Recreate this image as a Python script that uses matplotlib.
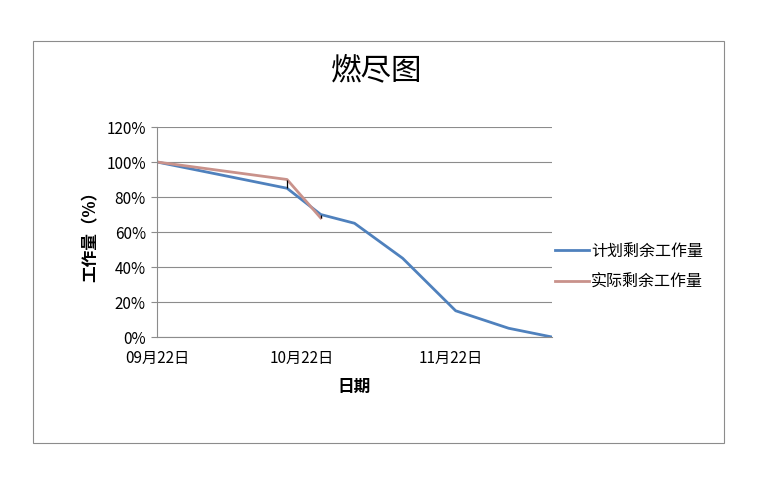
import numpy as np
import matplotlib
matplotlib.use("Agg")
import matplotlib.pyplot as plt
import matplotlib.dates as mdates
from matplotlib.patches import Rectangle

plt.rcParams['font.family'] = ['Noto Sans CJK SC', 'DejaVu Sans']

# data
plan_dates = np.array(['2013-09-22', '2013-10-19', '2013-10-26', '2013-11-02',
                       '2013-11-12', '2013-11-23', '2013-12-04', '2013-12-13'],
                      dtype='datetime64[D]')
plan_values = [100, 85, 70, 65, 45, 15, 5, 0]
actual_dates = plan_dates[:3]
actual_values = [100, 90, 68]
tick_dates = np.array(['2013-09-22', '2013-10-22', '2013-11-22'], dtype='datetime64[D]')

fig = plt.figure(figsize=(7.62, 4.84), dpi=100)
fig.patches.append(Rectangle((0.0433, 0.0847), 0.9068, 0.8306, transform=fig.transFigure,
                             fill=False, edgecolor='#8c8c8c', linewidth=0.8))

ax = fig.add_axes([0.206, 0.3037, 0.5184, 0.4339])
ax.plot(plan_dates, plan_values, color='#4F81BD', linewidth=2.0, label='计划剩余工作量')
ax.plot(actual_dates, actual_values, color='#C9928B', linewidth=2.0, label='实际剩余工作量')
# high-low lines between the two series
ax.vlines(actual_dates, actual_values, plan_values[:3], color='black', linewidth=0.9, zorder=3)

ax.set_xlim(plan_dates[0], plan_dates[-1])
ax.set_ylim(0, 120)
ax.set_yticks(range(0, 121, 20))
ax.set_yticklabels([f'{v}%' for v in range(0, 121, 20)])
ax.set_xticks(tick_dates)
ax.xaxis.set_major_formatter(mdates.DateFormatter('%m月%d日'))
ax.grid(axis='y', color='#8c8c8c', linewidth=0.8)
ax.set_axisbelow(True)
for s in ['top', 'right']:
    ax.spines[s].set_visible(False)
for s in ['left', 'bottom']:
    ax.spines[s].set_color('#8c8c8c')
    ax.spines[s].set_linewidth(0.8)
ax.tick_params(axis='y', length=4, color='#8c8c8c', labelsize=11, pad=4)
ax.tick_params(axis='x', length=0, labelsize=11, pad=9)

fig.text(377 / 762, 1 - 71 / 484, '燃尽图', fontsize=22, ha='center', va='center')
ax.set_xlabel('日期', fontsize=12, fontweight='bold', labelpad=8)
ax.set_ylabel('工作量（%）', fontsize=12, fontweight='bold', labelpad=5)

ax.legend(loc='center left', bbox_to_anchor=(555 / 762, 1 - 266.5 / 484),
          bbox_transform=fig.transFigure, frameon=False, borderpad=0, borderaxespad=0,
          fontsize=11.5, handlelength=2.1, handletextpad=0.15, labelspacing=0.85)

fig.savefig('out.png', dpi=100)
